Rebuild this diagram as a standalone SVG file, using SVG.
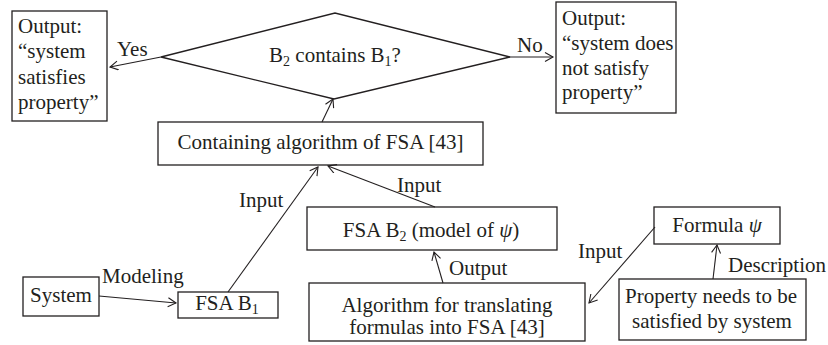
<svg xmlns="http://www.w3.org/2000/svg" width="828" height="345" viewBox="0 0 828 345">
<defs>
<style>
.box{fill:#fff;stroke:#231f20;stroke-width:1.3}
.ln{fill:none;stroke:#231f20;stroke-width:1.1}
text{font-family:"Liberation Serif","Times New Roman",serif;font-size:21px;fill:#231f20}
.c{text-anchor:middle}
.sub{font-size:14px}
.psi{font-style:italic}
</style>
<marker id="ah" markerUnits="userSpaceOnUse" markerWidth="12" markerHeight="12" refX="9" refY="5" orient="auto">
<path d="M1,0.5 L9,5 L1,9.5" fill="none" stroke="#231f20" stroke-width="1.1"/>
</marker>
</defs>
<rect width="828" height="345" fill="#fff"/>

<g id="out-yes">
<rect class="box" x="12" y="11" width="95" height="110"/>
<text x="18" y="33">Output:</text>
<text x="18" y="58">“system</text>
<text x="18" y="84">satisfies</text>
<text x="18" y="109">property”</text>
</g>

<g id="decision">
<polygon class="box" points="161,57 335,13 510,57 334,99"/>
<text class="c" x="335" y="62">B<tspan class="sub" dy="4">2</tspan><tspan dy="-4"> contains B</tspan><tspan class="sub" dy="4">1</tspan><tspan dy="-4">?</tspan></text>
</g>

<g id="out-no">
<rect class="box" x="556" y="2" width="120" height="111"/>
<text x="562" y="25">Output:</text>
<text x="562" y="50">“system does</text>
<text x="562" y="75">not satisfy</text>
<text x="562" y="99">property”</text>
</g>

<g id="containing">
<rect class="box" x="158" y="122" width="325" height="43"/>
<text class="c" x="320.5" y="149">Containing algorithm of FSA [43]</text>
</g>

<g id="fsa-b2">
<rect class="box" x="307" y="207" width="250" height="43"/>
<text class="c" x="431" y="237">FSA B<tspan class="sub" dy="4">2</tspan><tspan dy="-4"> (model of </tspan><tspan class="psi">ψ</tspan>)</text>
</g>

<g id="system">
<rect class="box" x="23" y="277" width="76" height="39"/>
<text class="c" x="61" y="302">System</text>
</g>

<g id="fsa-b1">
<rect class="box" x="178" y="292" width="100" height="26"/>
<text class="c" x="227" y="310">FSA B<tspan class="sub" dy="4">1</tspan></text>
</g>

<g id="translate">
<rect class="box" x="309" y="283" width="276" height="58"/>
<text class="c" x="447" y="312">Algorithm for translating</text>
<text class="c" x="447" y="334">formulas into FSA [43]</text>
</g>

<g id="formula">
<rect class="box" x="654" y="207" width="126" height="37"/>
<text class="c" x="717" y="232">Formula <tspan class="psi">ψ</tspan></text>
</g>

<g id="property">
<rect class="box" x="619" y="279" width="187" height="61"/>
<text class="c" x="711" y="303">Property needs to be</text>
<text class="c" x="712" y="328">satisfied by system</text>
</g>

<g id="connectors">
<line class="ln" x1="161" y1="57" x2="110" y2="67" marker-end="url(#ah)"/>
<line class="ln" x1="510" y1="57" x2="553" y2="57" marker-end="url(#ah)"/>
<line class="ln" x1="322" y1="122" x2="333" y2="99" marker-end="url(#ah)"/>
<line class="ln" x1="228" y1="292" x2="318" y2="167" marker-end="url(#ah)"/>
<line class="ln" x1="435" y1="207" x2="328" y2="166" marker-end="url(#ah)"/>
<line class="ln" x1="443" y1="283" x2="434" y2="252" marker-end="url(#ah)"/>
<line class="ln" x1="655" y1="227" x2="589" y2="303" marker-end="url(#ah)"/>
<line class="ln" x1="713" y1="279" x2="717" y2="245" marker-end="url(#ah)"/>
<line class="ln" x1="99" y1="296" x2="176" y2="303" marker-end="url(#ah)"/>
<text x="117" y="56">Yes</text>
<text x="517" y="52">No</text>
<text x="239" y="207">Input</text>
<text x="397" y="192">Input</text>
<text x="449" y="275">Output</text>
<text x="578" y="258">Input</text>
<text x="728" y="272">Description</text>
<text x="102" y="283">Modeling</text>
</g>
</svg>
